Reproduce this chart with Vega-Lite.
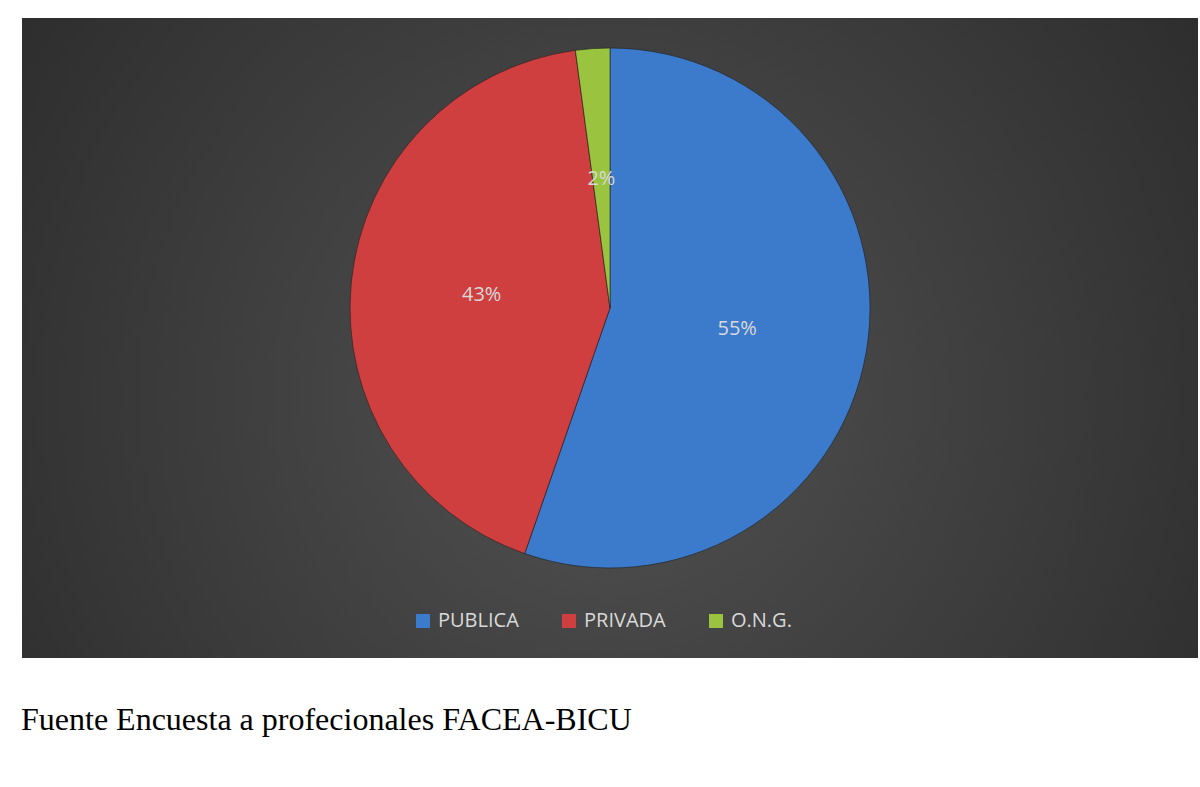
{
  "$schema": "https://vega.github.io/schema/vega-lite/v6.json",
  "width": 1176,
  "height": 640,
  "autosize": {"type": "none"},
  "padding": {"left": 22, "top": 18, "right": 2, "bottom": 129},
  "background": "#ffffff",
  "title": {
    "text": "Fuente Encuesta a profecionales FACEA-BICU",
    "orient": "bottom",
    "anchor": "start",
    "frame": "group",
    "offset": 47,
    "dx": -1,
    "baseline": "top",
    "font": "Liberation Serif",
    "fontSize": 32,
    "fontWeight": "normal",
    "color": "#000000"
  },
  "datasets": {
    "panel": [{"panel": "fondo"}],
    "sectores": [
      {"sector": "PUBLICA", "count": 26, "orden": 1, "label": "55%"},
      {"sector": "PRIVADA", "count": 20, "orden": 2, "label": "43%"},
      {"sector": "O.N.G.", "count": 1, "orden": 3, "label": "2%"}
    ]
  },
  "layer": [
    {
      "data": {"name": "panel"},
      "mark": {
        "type": "rect",
        "fill": {
          "gradient": "radial",
          "x1": 0.5, "y1": 0.55, "r1": 0,
          "x2": 0.5, "y2": 0.55, "r2": 0.72,
          "stops": [
            {"offset": 0, "color": "#525252"},
            {"offset": 1, "color": "#262626"}
          ]
        }
      },
      "encoding": {
        "x": {"value": 0},
        "x2": {"value": "width"},
        "y": {"value": 0},
        "y2": {"value": "height"}
      }
    },
    {
      "data": {"name": "sectores"},
      "mark": {"type": "arc", "radius": 260, "yOffset": -30, "stroke": "#1e1e1e", "strokeWidth": 1, "strokeOpacity": 0.6},
      "encoding": {
        "theta": {"field": "count", "type": "quantitative", "stack": true},
        "order": {"field": "orden", "type": "quantitative"},
        "color": {
          "field": "sector",
          "type": "nominal",
          "sort": ["PUBLICA", "PRIVADA", "O.N.G."],
          "scale": {"domain": ["PUBLICA", "PRIVADA", "O.N.G."], "range": ["#3c7bcc", "#cf3f3f", "#9ac33f"]},
          "legend": {
            "orient": "none",
            "legendX": 391,
            "legendY": 593,
            "direction": "horizontal",
            "title": null,
            "symbolType": "square",
            "symbolSize": 196,
            "symbolStrokeWidth": 0,
            "labelFont": "Open Sans",
            "labelFontSize": 20,
            "labelColor": "#d9d9d9",
            "labelOffset": 5,
            "columnPadding": 40
          }
        }
      }
    },
    {
      "data": {"name": "sectores"},
      "mark": {"type": "text", "radius": 129, "yOffset": -30, "font": "Open Sans", "fontSize": 20, "fill": "#d9d9d9"},
      "encoding": {
        "theta": {"field": "count", "type": "quantitative", "stack": true},
        "order": {"field": "orden", "type": "quantitative"},
        "text": {"field": "label", "type": "nominal"}
      }
    }
  ],
  "config": {
    "view": {"stroke": null}
  }
}
